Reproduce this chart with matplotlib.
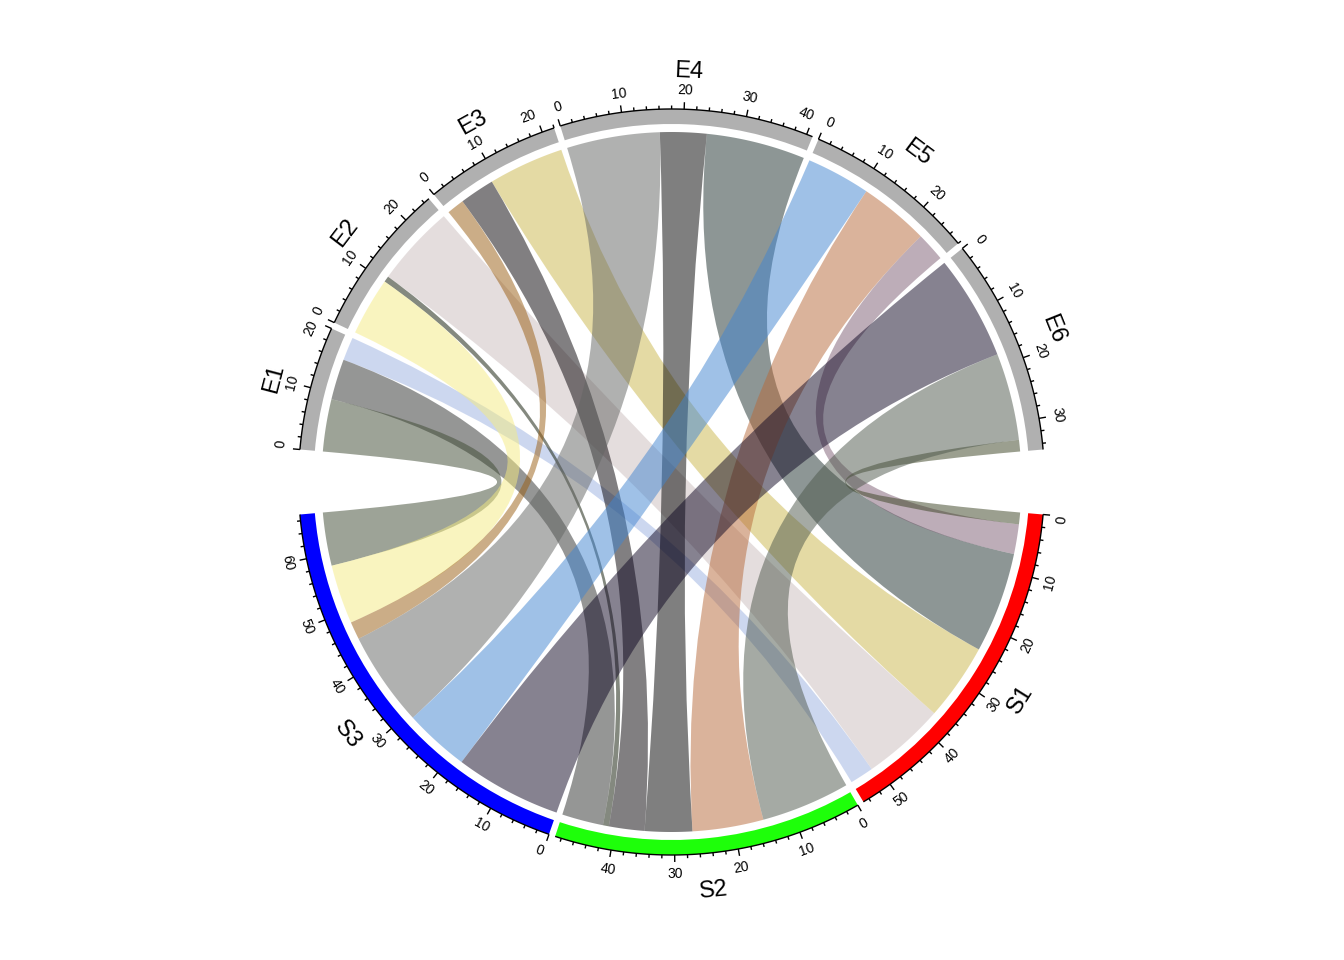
import numpy as np
import matplotlib
matplotlib.use("Agg")
import matplotlib.pyplot as plt
from matplotlib.path import Path
from matplotlib.patches import PathPatch, Wedge

# ---------------- data ----------------
rows = ["S1", "S2", "S3"]
cols = ["E1", "E2", "E3", "E4", "E5", "E6"]
values = [
    [4, 14, 13, 17, 5, 2],     # S1
    [7, 1, 6, 8, 12, 15],      # S2
    [9, 10, 3, 16, 11, 18],    # S3
]
row_colors = ["#FF0000", "#1EFF0A", "#0000FF"]
col_colors = ["#B0B0B0"] * 6
link_colors = [
    ["#9BB1E1", "#CBBDBD", "#CBB74B", "#1D2F2D", "#7D5D73", "#394121"],
    ["#2D2F2D", "#0A1400", "#050005", "#000000", "#B76939", "#4D574B"],
    ["#3D4931", "#F5EB81", "#995D11", "#636563", "#4185D1", "#0F0723"],
]
link_alpha = 0.5

# ---------------- layout ----------------
W, H = 1344, 960
cx, cy = 671.5, 960 - 482.0
R_out, R_in, R_link = 373.0, 358.0, 350.0
half_span = 170.0
small_gap = 1.0

vals = np.array(values, dtype=float)
row_sums = vals.sum(axis=1)
col_sums = vals.sum(axis=0)


def layout(sums, start):
    n = len(sums)
    scale = (half_span - small_gap * (n - 1)) / sums.sum()
    starts = []
    a = start
    for s in sums:
        starts.append(a)
        a -= s * scale + small_gap
    return starts, scale


col_starts, col_scale = layout(col_sums, 175.0)
row_starts, row_scale = layout(row_sums, -5.0)

fig = plt.figure(figsize=(W / 100, H / 100), dpi=100)
ax = fig.add_axes([0, 0, 1, 1])
ax.set_xlim(0, W)
ax.set_ylim(0, H)
ax.set_aspect("equal")
ax.axis("off")


def pol(r, th):
    t = np.deg2rad(th)
    return cx + r * np.cos(t), cy + r * np.sin(t)


def arc_pts(r, t1, t2, n=60):
    th = np.linspace(t1, t2, n)
    return [pol(r, t) for t in th]


# ---------------- links ----------------
for i in range(len(rows)):
    for j in range(len(cols)):
        v = vals[i, j]
        if v <= 0:
            continue
        off_r = vals[i, j + 1:].sum()
        s_hi = row_starts[i] - off_r * row_scale
        s_lo = row_starts[i] - (off_r + v) * row_scale
        off_c = vals[i + 1:, j].sum()
        e_hi = col_starts[j] - off_c * col_scale
        e_lo = col_starts[j] - (off_c + v) * col_scale

        verts, codes = [], []
        pts = arc_pts(R_link, e_lo, e_hi)
        verts += pts
        codes += [Path.MOVETO] + [Path.LINETO] * (len(pts) - 1)
        verts += [(cx, cy), pol(R_link, s_lo)]
        codes += [Path.CURVE3, Path.CURVE3]
        pts = arc_pts(R_link, s_lo, s_hi)
        verts += pts[1:]
        codes += [Path.LINETO] * (len(pts) - 1)
        verts += [(cx, cy), pol(R_link, e_lo)]
        codes += [Path.CURVE3, Path.CURVE3]
        verts.append(pol(R_link, e_lo))
        codes.append(Path.CLOSEPOLY)
        ax.add_patch(PathPatch(Path(verts, codes), facecolor=link_colors[i][j],
                               alpha=link_alpha, edgecolor="none", lw=0,
                               zorder=2))

# ---------------- sectors, axes, labels ----------------
font = ["Liberation Sans", "Arial", "DejaVu Sans"]


def draw_sector(name, start, total, scale, color, top):
    end = start - total * scale
    ax.add_patch(Wedge((cx, cy), R_out, end, start, width=R_out - R_in,
                       facecolor=color, edgecolor="none", zorder=3))
    xs, ys = zip(*arc_pts(R_out, end, start, 80))
    ax.plot(xs, ys, color="black", lw=1.0, zorder=4, solid_capstyle="butt")
    majors = list(range(0, int(total) + 1, 10))
    for u in range(0, int(total) + 1, 2):
        th = start - u * scale
        major = (u % 10 == 0)
        L = 7.0 if major else 3.5
        x0, y0 = pol(R_out, th)
        x1, y1 = pol(R_out + L, th)
        ax.plot([x0, x1], [y0, y1], color="black", lw=1.0, zorder=4,
                solid_capstyle="butt")
    for u in majors:
        th = start - u * scale
        rot = th - 90 if top else th + 90
        ha = "center"
        if u == 0:
            ha = "left" if top else "right"
        elif u == majors[-1] and total - u < 5:
            ha = "right" if top else "left"
        xt, yt = pol(R_out + 19, th)
        ax.text(xt, yt, str(u), rotation=rot, rotation_mode="anchor",
                ha=ha, va="center", fontsize=10, family=font, zorder=5)
    mid = start - total * scale / 2
    rot = mid - 90 if top else mid + 90
    xn, yn = pol(R_out + 38, mid)
    ax.text(xn, yn, name, rotation=rot, rotation_mode="anchor",
            ha="center", va="center", fontsize=17, family=font, zorder=5)


for j, nm in enumerate(cols):
    draw_sector(nm, col_starts[j], col_sums[j], col_scale, col_colors[j], True)
for i, nm in enumerate(rows):
    draw_sector(nm, row_starts[i], row_sums[i], row_scale, row_colors[i], False)

fig.savefig("out.png", dpi=100)
